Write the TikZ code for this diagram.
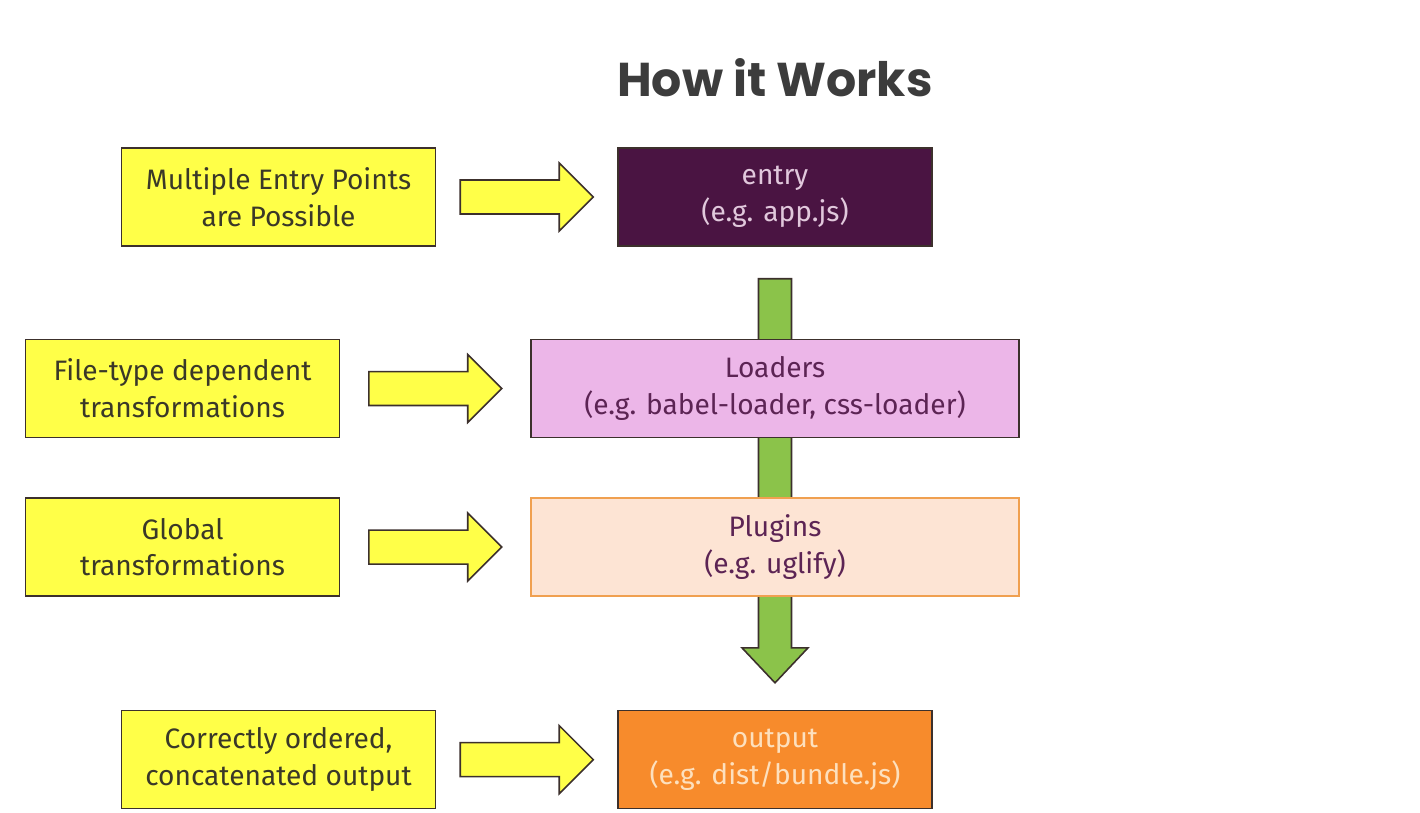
\documentclass[tikz,border=0pt]{standalone}
\usepackage{fontspec}
\setmainfont{Fira Sans}
\newfontfamily\titlefont{Poppins}
\usetikzlibrary{positioning,calc}
\definecolor{entryfill}{RGB}{74,20,66}
\definecolor{entrytext}{RGB}{225,200,220}
\definecolor{loadfill}{RGB}{236,182,232}
\definecolor{plumtext}{RGB}{92,36,84}
\definecolor{plugfill}{RGB}{253,228,212}
\definecolor{plugline}{RGB}{240,160,80}
\definecolor{outfill}{RGB}{247,139,44}
\definecolor{outtext}{RGB}{253,224,190}
\definecolor{noteyellow}{RGB}{255,255,72}
\definecolor{notetext}{RGB}{58,56,40}
\definecolor{edge}{RGB}{60,48,44}
\definecolor{pipegreen}{RGB}{139,195,74}
\definecolor{titlegray}{RGB}{60,60,60}
\pgfdeclarelayer{back}
\pgfsetlayers{back,main}

% block arrow centred between two nodes
\newcommand{\sidearrow}[2]{%
  \draw[yarr] let \p1=($(#1.east)!0.5!(#2.west)$) in
    (\x1-1.33cm,\y1+0.34cm) -- (\x1+0.65cm,\y1+0.34cm) -- (\x1+0.65cm,\y1+0.68cm)
    -- (\x1+1.33cm,\y1) -- (\x1+0.65cm,\y1-0.68cm) -- (\x1+0.65cm,\y1-0.34cm)
    -- (\x1-1.33cm,\y1-0.34cm) -- cycle;}

\begin{document}
\begin{tikzpicture}[
    x=0.02cm, y=-0.02cm,
    box/.style={
      rectangle,
      draw=edge,
      line width=0.9pt,
      align=center,
      inner sep=0pt,
      minimum height=1.96cm,
      font=\fontsize{16}{21}\selectfont
    },
    note/.style={box, fill=noteyellow, text=notetext, minimum width=6.28cm},
    stage/.style={box, minimum width=6.28cm},
    wide/.style={box, minimum width=9.76cm},
    yarr/.style={draw=edge, line width=0.9pt, fill=noteyellow, line join=miter},
    garr/.style={draw=edge, line width=0.9pt, fill=pipegreen, line join=miter}
  ]
    \useasboundingbox (0,0) rectangle (1420,813);

    \node[text=titlegray, font=\titlefont\bfseries\fontsize{27}{31}\selectfont] (title) at (775,78) {How it Works};

    \node[stage, fill=entryfill, text=entrytext] (entry) at (775,197) {entry\\(e.g. app.js)};
    \node[wide, fill=loadfill, text=plumtext, below=1.84cm of entry] (loaders) {Loaders\\(e.g. babel-loader, css-loader)};
    \node[wide, fill=plugfill, draw=plugline, text=plumtext, below=1.18cm of loaders] (plugins) {Plugins\\(e.g. uglify)};
    \node[stage, fill=outfill, text=outtext, below=2.26cm of plugins] (output) {output\\(e.g. dist/bundle.js)};

    \node[note, left=3.62cm of entry] (multi) {Multiple Entry Points\\are Possible};
    \node[note, left=3.8cm of loaders] (filetype) {File-type dependent\\transformations};
    \node[note, left=3.8cm of plugins] (global) {Global\\transformations};
    \node[note, left=3.62cm of output] (ordered) {Correctly ordered,\\concatenated output};

    \sidearrow{multi}{entry}
    \sidearrow{filetype}{loaders}
    \sidearrow{global}{plugins}
    \sidearrow{ordered}{output}

    \begin{pgfonlayer}{back}
      \draw[garr] let \p1=($(entry.south)+(0,-0.64cm)$), \p2=($(output.north)+(0,0.54cm)$) in
        (\x1-0.33cm,\y1) -- (\x1+0.33cm,\y1) -- (\x1+0.33cm,\y2+0.7cm) -- (\x1+0.66cm,\y2+0.7cm)
        -- (\x1,\y2) -- (\x1-0.66cm,\y2+0.7cm) -- (\x1-0.33cm,\y2+0.7cm) -- cycle;
    \end{pgfonlayer}
  \end{tikzpicture}
\end{document}
